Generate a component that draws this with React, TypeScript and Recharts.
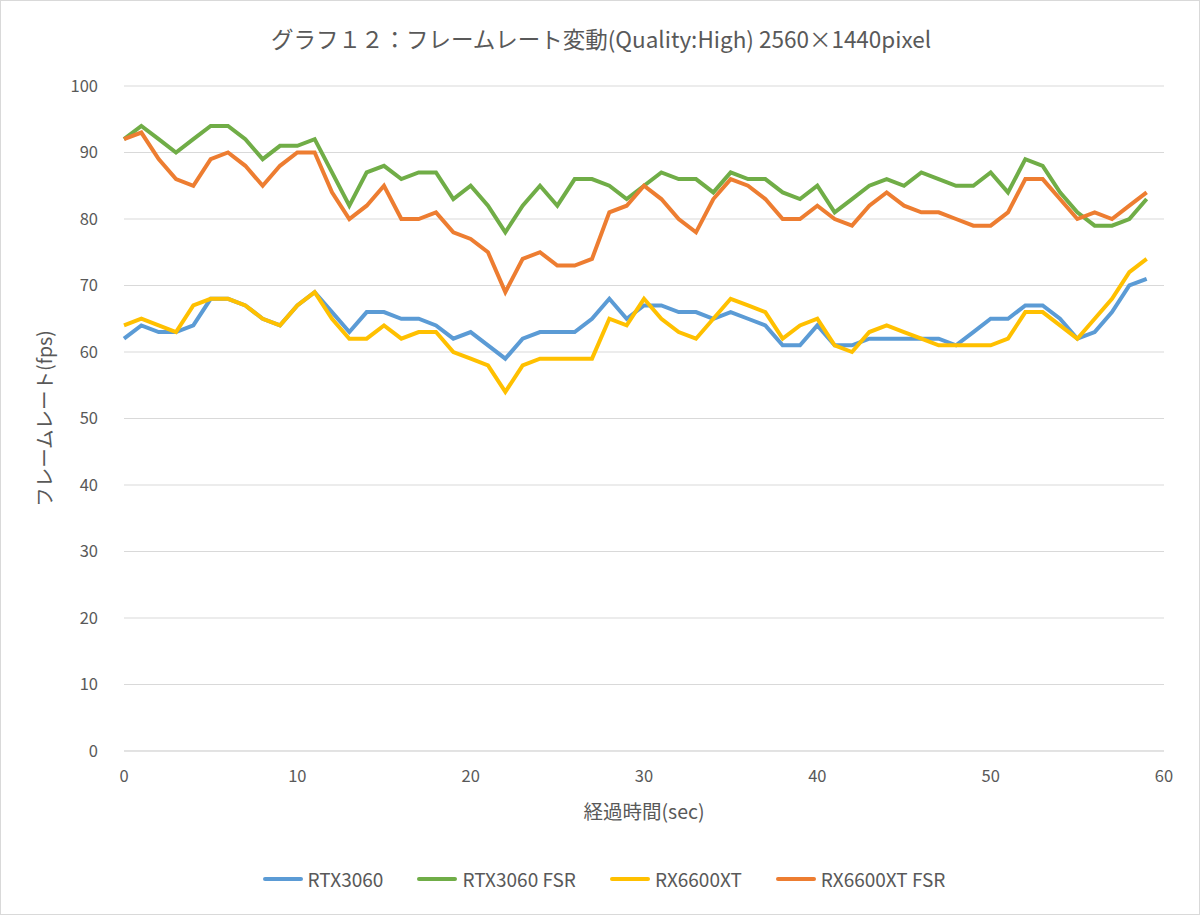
import React from "react";
import { LineChart, Line, XAxis, YAxis, CartesianGrid, Legend } from "recharts";

const seconds = [
  0, 1, 2, 3, 4, 5, 6, 7, 8, 9, 10, 11, 12, 13, 14, 15, 16, 17, 18, 19,
  20, 21, 22, 23, 24, 25, 26, 27, 28, 29, 30, 31, 32, 33, 34, 35, 36, 37, 38, 39,
  40, 41, 42, 43, 44, 45, 46, 47, 48, 49, 50, 51, 52, 53, 54, 55, 56, 57, 58, 59,
];

const rtx3060 = [
  62, 64, 63, 63, 64, 68, 68, 67, 65, 64, 67, 69, 66, 63, 66, 66, 65, 65, 64, 62,
  63, 61, 59, 62, 63, 63, 63, 65, 68, 65, 67, 67, 66, 66, 65, 66, 65, 64, 61, 61,
  64, 61, 61, 62, 62, 62, 62, 62, 61, 63, 65, 65, 67, 67, 65, 62, 63, 66, 70, 71,
];

const rtx3060Fsr = [
  92, 94, 92, 90, 92, 94, 94, 92, 89, 91, 91, 92, 87, 82, 87, 88, 86, 87, 87, 83,
  85, 82, 78, 82, 85, 82, 86, 86, 85, 83, 85, 87, 86, 86, 84, 87, 86, 86, 84, 83,
  85, 81, 83, 85, 86, 85, 87, 86, 85, 85, 87, 84, 89, 88, 84, 81, 79, 79, 80, 83,
];

const rx6600xt = [
  64, 65, 64, 63, 67, 68, 68, 67, 65, 64, 67, 69, 65, 62, 62, 64, 62, 63, 63, 60,
  59, 58, 54, 58, 59, 59, 59, 59, 65, 64, 68, 65, 63, 62, 65, 68, 67, 66, 62, 64,
  65, 61, 60, 63, 64, 63, 62, 61, 61, 61, 61, 62, 66, 66, 64, 62, 65, 68, 72, 74,
];

const rx6600xtFsr = [
  92, 93, 89, 86, 85, 89, 90, 88, 85, 88, 90, 90, 84, 80, 82, 85, 80, 80, 81, 78,
  77, 75, 69, 74, 75, 73, 73, 74, 81, 82, 85, 83, 80, 78, 83, 86, 85, 83, 80, 80,
  82, 80, 79, 82, 84, 82, 81, 81, 80, 79, 79, 81, 86, 86, 83, 80, 81, 80, 82, 84,
];

const xTicks = [0, 10, 20, 30, 40, 50, 60];
const yTicks = [0, 10, 20, 30, 40, 50, 60, 70, 80, 90, 100];

const seriesNames = ["RTX3060", "RTX3060 FSR", "RX6600XT", "RX6600XT FSR"];
const seriesColors = ["#5B9BD5", "#70AD47", "#FFC000", "#ED7D31"];
const seriesValues = [rtx3060, rtx3060Fsr, rx6600xt, rx6600xtFsr];

const data = seconds.map((t, i) => {
  const row: Record<string, number> = { t };
  seriesNames.forEach((name, s) => {
    row[name] = seriesValues[s][i];
  });
  return row;
});

const FONT = '"Noto Sans CJK JP", "Noto Sans", sans-serif';
const TEXT = "#595959";

const LegendContent = () => (
  <div
    style={{
      display: "flex",
      justifyContent: "center",
      alignItems: "center",
      fontFamily: FONT,
      fontSize: 19,
      color: TEXT,
      width: 1200,
      marginLeft: 4,
    }}
  >
    {seriesNames.map((name, i) => (
      <div
        key={name}
        style={{ display: "flex", alignItems: "center", marginLeft: i === 0 ? 0 : 34 }}
      >
        <span
          style={{
            display: "inline-block",
            width: 40,
            height: 4,
            borderRadius: 2,
            background: seriesColors[i],
            marginRight: 5,
          }}
        />
        <span>{name}</span>
      </div>
    ))}
  </div>
);

export default function App() {
  return (
    <div
      style={{
        position: "absolute",
        left: 0,
        top: 0,
        width: 1200,
        height: 915,
        background: "#fff",
        boxSizing: "border-box",
        border: "1px solid #d9d9d9",
        fontFamily: FONT,
      }}
    >
      <div
        style={{
          position: "absolute",
          top: 21,
          left: 0,
          width: 1200,
          textAlign: "center",
          fontSize: 22.5,
          color: TEXT,
          fontFamily: FONT,
        }}
      >
        グラフ１２：フレームレート変動(Quality:High) 2560×1440pixel
      </div>
      <div style={{ position: "absolute", left: -1, top: -1 }}>
        <LineChart
          width={1200}
          height={915}
          data={data}
          margin={{ top: 86, right: 36, bottom: 20, left: 0 }}
        >
          <CartesianGrid horizontal vertical={false} stroke="#d9d9d9" strokeWidth={1} />
          <XAxis
            type="number"
            dataKey="t"
            domain={[0, 60]}
            ticks={xTicks}
            interval={0}
            height={114}
            tickLine={false}
            axisLine={{ stroke: "#d9d9d9" }}
            tickMargin={13}
            tick={{ fill: TEXT, fontSize: 16.5, fontFamily: FONT }}
            label={{
              value: "経過時間(sec)",
              position: "insideTop",
              offset: 54,
              fill: TEXT,
              fontSize: 19.5,
              fontFamily: FONT,
            }}
          />
          <YAxis
            type="number"
            domain={[0, 100]}
            ticks={yTicks}
            interval={0}
            width={124}
            tickLine={false}
            axisLine={false}
            tickMargin={20}
            tick={{ fill: TEXT, fontSize: 16.5, fontFamily: FONT }}
            label={{
              value: "フレームレート(fps)",
              angle: -90,
              position: "insideLeft",
              offset: 45,
              style: { textAnchor: "middle" },
              fill: TEXT,
              fontSize: 19.5,
              fontFamily: FONT,
            }}
          />
          <Legend
            verticalAlign="bottom"
            height={30}
            content={<LegendContent />}
            wrapperStyle={{ left: 0, width: 1200 }}
          />
          {seriesNames.map((name, i) => (
            <Line
              key={name}
              type="linear"
              dataKey={name}
              stroke={seriesColors[i]}
              strokeWidth={4}
              dot={false}
              activeDot={false}
              isAnimationActive={false}
            />
          ))}
        </LineChart>
      </div>
    </div>
  );
}
